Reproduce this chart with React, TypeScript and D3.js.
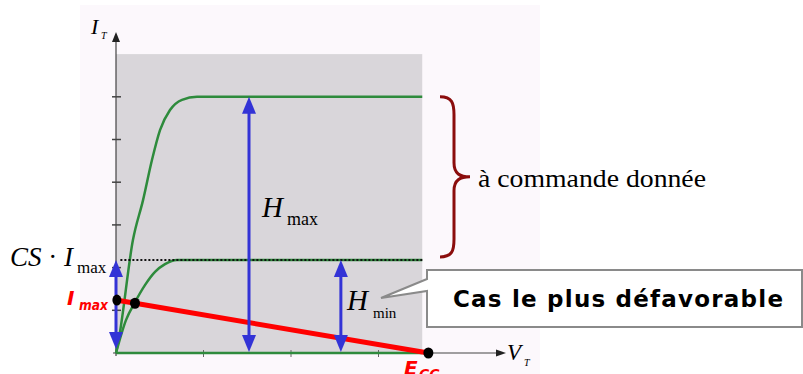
import React from "react";
import * as d3 from "d3";

const W = 803;
const H = 374;

// Data (in chart units)
const xTicks = [1, 2, 3];
const yTicks = [1, 2, 3, 4, 5, 6];
const hMaxLevel = 6;
const csImaxLevel = 2.18;
const iMaxLevel = 1.24;
const eccValue = 3.57;
const plateauEnd = 3.5;
const hMaxX = 1.52;
const hMinX = 2.57;

const curveHmax: [number, number][] = [
  [0, 0], [0.034, 0.35], [0.194, 2.65], [0.309, 3.58], [0.411, 4.52],
  [0.503, 5.22], [0.617, 5.69], [0.754, 5.93], [0.926, 6.0], [3.5, 6.0],
];
const curveHmin: [number, number][] = [
  [0, 0], [0.114, 0.77], [0.217, 1.19], [0.331, 1.59], [0.446, 1.9],
  [0.56, 2.08], [0.697, 2.18], [3.5, 2.18],
];
const loadLine: [number, number][] = [[0, iMaxLevel], [eccValue, 0]];
const dots: [number, number][] = [[0.01, 1.24], [0.217, 1.165], [eccValue, 0]];

const x = d3.scaleLinear().domain([0, 4.5]).range([116, 116 + 4.5 * 87.5]);
const y = d3.scaleLinear().domain([0, 7]).range([353, 353 - 7 * 42.7]);

const BLUE = "#3333d6";
const GREEN = "#2e8b3c";
const DARKRED = "#8b0d0d";

function DoubleArrow({ px, y1, y2, top = true, bottom = true }: { px: number; y1: number; y2: number; top?: boolean; bottom?: boolean }) {
  const hw = 7, hl = 17;
  return (
    <g>
      <line x1={px} x2={px} y1={y1 + (top ? hl - 2 : 0)} y2={y2 - (bottom ? hl - 2 : 0)} stroke={BLUE} strokeWidth={3} />
      {top && <polygon points={`${px},${y1} ${px - hw},${y1 + hl} ${px + hw},${y1 + hl}`} fill={BLUE} />}
      {bottom && <polygon points={`${px},${y2} ${px - hw},${y2 - hl} ${px + hw},${y2 - hl}`} fill={BLUE} />}
    </g>
  );
}

export default function App() {
  const line = d3.line<[number, number]>().x((d) => x(d[0])).y((d) => y(d[1])).curve(d3.curveMonotoneX);
  const straight = d3.line<[number, number]>().x((d) => x(d[0])).y((d) => y(d[1]));
  const y0 = y(0);
  const serif = "'Liberation Serif', 'Times New Roman', serif";
  const comic = "'Comic Sans MS', 'DejaVu Sans', sans-serif";

  const bTop = y(hMaxLevel), bBot = y(csImaxLevel) - 3, bMid = (bTop + bBot) / 2;
  const bx0 = 440, bx1 = 454, bx2 = 470;
  const brace = `M${bx0},${bTop} C${bx1 - 2},${bTop} ${bx1},${bTop + 6} ${bx1},${bTop + 18} L${bx1},${bMid - 14} C${bx1},${bMid - 3} ${bx1 + 6},${bMid} ${bx2},${bMid} C${bx1 + 6},${bMid} ${bx1},${bMid + 3} ${bx1},${bMid + 14} L${bx1},${bBot - 18} C${bx1},${bBot - 6} ${bx1 - 2},${bBot} ${bx0},${bBot}`;

  return (
    <svg width={W} height={H} style={{ position: "absolute", left: 0, top: 0, background: "#ffffff" }}>
      <rect x={80} y={5} width={460} height={369} fill="#fcf8fc" />
      <rect x={x(0)} y={y(7)} width={x(plateauEnd) - x(0)} height={y0 - y(7)} fill="#d9d6da" />

      {/* axes */}
      <line x1={x(0)} x2={x(0)} y1={y0 + 3} y2={38} stroke="#444" strokeWidth={1.2} />
      <polygon points={`${x(0)},32 ${x(0) - 4},42 ${x(0) + 4},42`} fill="#222" />
      <line x1={x(0) - 3} x2={499} y1={y0} y2={y0} stroke="#444" strokeWidth={1.2} />
      <polygon points={`506,${y0} 496,${y0 - 3.5} 496,${y0 + 3.5}`} fill="#222" />
      {yTicks.map((t) => (
        <line key={"yt" + t} x1={x(0) - 4} x2={x(0) + 5} y1={y(t)} y2={y(t)} stroke="#444" strokeWidth={1.5} />
      ))}
      {xTicks.map((t) => (
        <line key={"xt" + t} x1={x(t)} x2={x(t)} y1={y0 - 3} y2={y0 + 4} stroke="#666" strokeWidth={1} />
      ))}

      {/* green characteristic curves */}
      <line x1={x(0)} x2={x(plateauEnd)} y1={y0} y2={y0} stroke={GREEN} strokeWidth={2.5} />
      <path d={line(curveHmax) || ""} fill="none" stroke={GREEN} strokeWidth={2.5} />
      <path d={line(curveHmin) || ""} fill="none" stroke={GREEN} strokeWidth={2.5} />
      <line x1={x(0.05)} x2={x(plateauEnd)} y1={y(csImaxLevel)} y2={y(csImaxLevel)} stroke="#111" strokeWidth={2} strokeDasharray="2,2" />

      {/* load line */}
      <path d={straight(loadLine) || ""} stroke="#ff0000" strokeWidth={5} fill="none" />

      {/* blue arrows */}
      <DoubleArrow px={x(0)} y1={y(csImaxLevel)} y2={y0 - 4} />
      <DoubleArrow px={x(hMaxX)} y1={y(hMaxLevel)} y2={y0 - 1} />
      <DoubleArrow px={x(hMinX)} y1={y(csImaxLevel)} y2={y0 - 1} />

      {dots.map((d, i) => (
        <ellipse key={"dot" + i} cx={x(d[0])} cy={y(d[1])} rx={i === 0 ? 4.5 : 5} ry={5.5} fill="#000" />
      ))}

      {/* brace */}
      <path d={brace} fill="none" stroke={DARKRED} strokeWidth={3} />
      <text x={478} y={187} fontFamily={serif} fontSize={26} fill="#000" textLength={228} lengthAdjust="spacingAndGlyphs">à commande donnée</text>

      {/* labels */}
      <text x={91} y={34} fontFamily={serif} fontSize={22} fontStyle="italic">I</text>
      <text x={101} y={39} fontFamily={serif} fontSize={10} fontStyle="italic">T</text>
      <text x={507} y={360} fontFamily={serif} fontSize={23} fontStyle="italic">V</text>
      <text x={524} y={366} fontFamily={serif} fontSize={10} fontStyle="italic">T</text>

      <text x={10} y={266} fontFamily={serif} fontSize={27}>
        <tspan fontStyle="italic">CS</tspan>
        <tspan> · </tspan>
        <tspan fontStyle="italic">I</tspan>
      </text>
      <text x={77} y={273} fontFamily={serif} fontSize={17}>max</text>

      <text x={262} y={217} fontFamily={serif} fontSize={29} fontStyle="italic">H</text>
      <text x={287} y={225} fontFamily={serif} fontSize={18}>max</text>
      <text x={347} y={310} fontFamily={serif} fontSize={29} fontStyle="italic">H</text>
      <text x={373} y={318} fontFamily={serif} fontSize={15}>min</text>

      <text x={67} y={305} fontFamily={comic} fontSize={20} fontStyle="italic" fontWeight="bold" fill="#ff0000">I</text>
      <text x={79} y={310} fontFamily={comic} fontSize={14} fontStyle="italic" fontWeight="bold" fill="#ff0000" textLength={29} lengthAdjust="spacingAndGlyphs">max</text>
      <text x={404} y={375} fontFamily={comic} fontSize={20} fontStyle="italic" fontWeight="bold" fill="#ff0000">E</text>
      <text x={419} y={379} fontFamily={comic} fontSize={14} fontStyle="italic" fontWeight="bold" fill="#ff0000">CC</text>

      {/* callout */}
      <path d="M427,270 L802,270 L802,327 L427,327 L427,291 L381,298 L427,279 Z" fill="#ffffff" stroke="#8a8a8a" strokeWidth={2} />
      <text x={453} y={307} fontFamily={comic} fontSize={23} fontWeight="bold" fill="#000" textLength={330} lengthAdjust="spacing">Cas le plus défavorable</text>
    </svg>
  );
}
